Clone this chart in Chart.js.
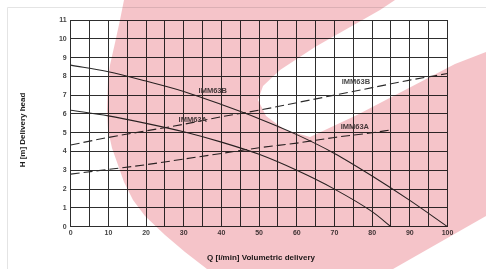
<!DOCTYPE html>
<html>
<head>
<meta charset="utf-8">
<script src="https://cdn.jsdelivr.net/npm/chart.js@4"></script>
<style>
  html, body { margin: 0; padding: 0; background: #fff; }
  #wrap { width: 486px; height: 269px; }
</style>
</head>
<body>
<div id="wrap"><canvas id="pumpChart" width="486" height="269"></canvas></div>
<script>
// flow rates Q [l/min]
const flowB = [0, 10, 20, 30, 40, 50, 60, 70, 80, 90, 100];
const flowA = [0, 10, 20, 30, 40, 50, 60, 70, 80, 85];

// head H [m] - pump curves (solid)
const headSolidB = [8.6, 8.25, 7.75, 7.2, 6.5, 5.75, 4.9, 3.9, 2.7, 1.4, 0];
const headSolidA = [6.2, 5.9, 5.5, 5.05, 4.5, 3.85, 3.0, 2.0, 0.8, 0];

// head H [m] - dashed curves
const headDashedB = [4.35, 4.75, 5.1, 5.45, 5.85, 6.2, 6.6, 7.0, 7.4, 7.8, 8.15];
const headDashedA = [2.8, 3.05, 3.3, 3.6, 3.9, 4.2, 4.45, 4.75, 5.0, 5.15];

// curve labels, placed in data units
const curveLabels = ['IMM63B', 'IMM63A', 'IMM63B', 'IMM63A'];
const labelQ = [37.7, 32.4, 75.7, 75.4];
const labelH = [7.2, 5.68, 7.7, 5.3];

const xTitle = 'Q [l/min] Volumetric delivery';
const yTitle = 'H [m] Delivery head';

const ink = '#2e2e2e';
const tickFont = { family: 'Liberation Sans', size: 7, weight: 'bold' };

function pairs(xs, ys) {
  return xs.map((x, i) => ({ x: x, y: ys[i] }));
}

// pale logo watermark behind the grid (canvas pixels)
const watermark = [
  [124, 0], [120, 20], [115, 43], [110, 65], [108, 80], [107, 110], [108, 130],
  [112, 148], [118, 165], [124, 182], [133, 200], [145, 216], [165, 235],
  [185, 252], [207, 269], [393, 269], [486, 216], [486, 52], [455, 64],
  [357, 115], [310, 137], [285, 130], [266, 116], [258, 100], [263, 86],
  [280, 70], [315, 47], [380, 10], [395, 0]
];

const decor = {
  id: 'decor',
  beforeDraw(chart) {
    const ctx = chart.ctx;
    ctx.save();
    ctx.fillStyle = '#fff';
    ctx.fillRect(0, 0, chart.width, chart.height);
    ctx.strokeStyle = '#e4e4e4';
    ctx.lineWidth = 1;
    ctx.beginPath();
    ctx.moveTo(7.5, 269);
    ctx.lineTo(7.5, 7.5);
    ctx.lineTo(486, 7.5);
    ctx.stroke();
    ctx.restore();
  },
  afterDraw(chart) {
    const ctx = chart.ctx;
    const xs = chart.scales.x, ys = chart.scales.y;
    ctx.save();
    // curve labels
    ctx.fillStyle = '#4a4a4a';
    ctx.font = 'bold 7.5px "Liberation Sans"';
    ctx.textAlign = 'center';
    ctx.textBaseline = 'middle';
    curveLabels.forEach((t, i) => {
      ctx.fillText(t, xs.getPixelForValue(labelQ[i]), ys.getPixelForValue(labelH[i]));
    });
    // axis titles
    ctx.fillStyle = '#222';
    ctx.font = 'bold 8px "Liberation Sans"';
    ctx.fillText(xTitle, 261, 258);
    ctx.translate(23, 130);
    ctx.rotate(-Math.PI / 2);
    ctx.fillText(yTitle, 0, 0);
    ctx.restore();

    // watermark tint over everything
    ctx.save();
    ctx.globalCompositeOperation = 'multiply';
    ctx.fillStyle = 'rgb(245,196,201)';
    ctx.beginPath();
    watermark.forEach((p, i) => (i ? ctx.lineTo(p[0], p[1]) : ctx.moveTo(p[0], p[1])));
    ctx.closePath();
    ctx.fill();
    ctx.restore();
  }
};

const lineStyle = { borderColor: '#2a2a2a', borderWidth: 1.1, pointRadius: 0, fill: false, cubicInterpolationMode: 'monotone' };

new Chart(document.getElementById('pumpChart').getContext('2d'), {
  type: 'line',
  data: {
    datasets: [
      Object.assign({ label: 'IMM63B', data: pairs(flowB, headSolidB) }, lineStyle),
      Object.assign({ label: 'IMM63A', data: pairs(flowA, headSolidA) }, lineStyle),
      Object.assign({ label: 'IMM63B system', data: pairs(flowB, headDashedB), borderDash: [9, 4] }, lineStyle),
      Object.assign({ label: 'IMM63A system', data: pairs(flowA, headDashedA), borderDash: [9, 4] }, lineStyle)
    ]
  },
  options: {
    responsive: false,
    animation: false,
    devicePixelRatio: 1,
    layout: { padding: { left: 0, top: 20, right: 38.5, bottom: 0 } },
    plugins: { legend: { display: false }, tooltip: { enabled: false } },
    scales: {
      x: {
        type: 'linear', min: 0, max: 100,
        ticks: {
          stepSize: 5, autoSkip: false, maxRotation: 0, padding: 2,
          color: '#444', font: tickFont,
          callback: (v) => (v % 10 === 0 ? v : '')
        },
        grid: { color: ink, lineWidth: 1, drawTicks: false },
        border: { color: ink },
        afterFit: (s) => { s.height = 42.3; }
      },
      y: {
        min: 0, max: 11,
        ticks: { stepSize: 1, padding: 4, color: '#444', font: tickFont },
        grid: { color: ink, lineWidth: 1, drawTicks: false },
        border: { color: ink },
        afterFit: (s) => { s.width = 70.7; }
      }
    }
  },
  plugins: [decor]
});
</script>
</body>
</html>
